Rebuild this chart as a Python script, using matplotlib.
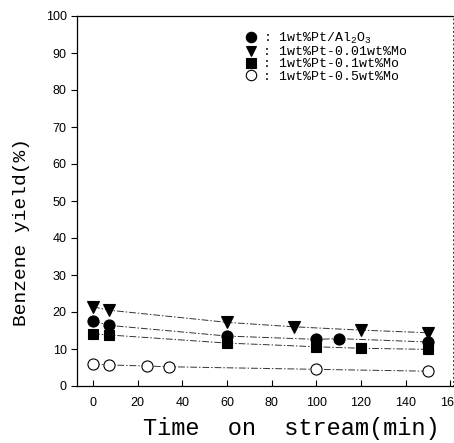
import matplotlib
matplotlib.use("Agg")
import matplotlib.pyplot as plt
from matplotlib.lines import Line2D

# time on stream (min) and benzene yield (%) for each catalyst
t_pt = [0, 7, 60, 100, 110, 150]
y_pt = [17.6, 16.4, 13.5, 12.6, 12.8, 11.9]

t_mo001 = [0, 7, 60, 90, 120, 150]
y_mo001 = [21.4, 20.5, 17.2, 16.0, 15.1, 14.4]

t_mo01 = [0, 7, 60, 100, 120, 150]
y_mo01 = [14.1, 13.8, 11.6, 10.6, 10.2, 9.9]

t_mo05 = [0, 7, 24, 34, 100, 150]
y_mo05 = [5.9, 5.7, 5.4, 5.2, 4.5, 4.0]

labels = [r"1wt%Pt/Al$_2$O$_3$", "1wt%Pt-0.01wt%Mo",
          "1wt%Pt-0.1wt%Mo", "1wt%Pt-0.5wt%Mo"]

plt.rcParams["mathtext.fontset"] = "custom"
plt.rcParams["mathtext.rm"] = "Liberation Mono"
plt.rcParams["mathtext.it"] = "Liberation Mono"

fig = plt.figure(figsize=(4.54, 4.43), dpi=100)
ax = fig.add_axes([77 / 454, 57 / 443, 376 / 454, 370 / 443])

dash = (0, (7, 2, 1.5, 2))
series = [
    (t_pt, y_pt, "o", "k", 8),
    (t_mo001, y_mo001, "v", "k", 8),
    (t_mo01, y_mo01, "s", "k", 7),
    (t_mo05, y_mo05, "o", "white", 8),
]
handles = []
for (t, y, m, fc, ms), lab in zip(series, labels):
    ax.plot(t, y, color="#333333", lw=0.7, ls=dash, zorder=1)
    ax.plot(t, y, ls="none", marker=m, ms=ms, mfc=fc, mec="k", mew=0.8, zorder=3)
    handles.append(Line2D([], [], ls="none", marker=m, ms=ms - 0.5, mfc=fc,
                          mec="k", mew=0.8, label=": " + lab))

ax.set_xlim(-7.2, 161.2)
ax.set_ylim(0, 100)
ax.set_xticks(range(0, 161, 20))
ax.set_yticks(range(0, 101, 10))
ax.tick_params(axis="x", direction="in", length=4, pad=8, labelsize=9)
ax.tick_params(axis="y", direction="out", length=4, labelsize=9)
for lab in ax.get_xticklabels() + ax.get_yticklabels():
    lab.set_family("Liberation Sans")
for s in ax.spines.values():
    s.set_linewidth(0.9)
ax.spines["right"].set_linestyle((0, (1, 4)))
ax.spines["right"].set_linewidth(0.6)

ax.set_xlabel("Time  on  stream(min)", family="Liberation Mono", fontsize=17, labelpad=4)
ax.xaxis.set_label_coords(0.57, -0.085)
ax.set_ylabel("Benzene yield(%)", family="Liberation Mono", fontsize=14)
ax.yaxis.set_label_coords(-0.125, 0.415)

ax.legend(handles=handles, loc="upper left", bbox_to_anchor=(0.41, 0.985),
          frameon=False, handletextpad=0.1, labelspacing=0.0,
          borderpad=0.2, handlelength=1.6,
          prop={"family": "Liberation Mono", "size": 9.5})

fig.savefig("out.png", dpi=100)
